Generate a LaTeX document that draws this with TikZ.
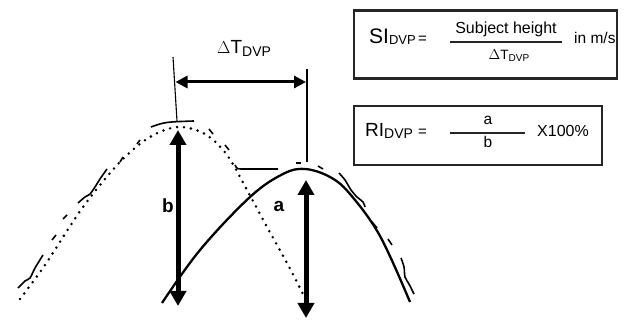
\documentclass[tikz,border=0pt]{standalone}
\usepackage{fontspec}
\setmainfont{Liberation Sans}
\usetikzlibrary{arrows.meta,positioning,calc}
\newcommand{\fsz}[1]{\fontsize{#1}{#1}\selectfont}
\newcommand{\lowdvp}[2]{\raisebox{-#1pt}{\fsz{#2}DVP}}

\begin{document}
\begin{tikzpicture}[x=1pt,y=-1pt,
  formbox/.style={draw=black!85,line width=2.2pt,inner sep=0pt},
  txt/.style={inner sep=0pt,anchor=base west},
  ctxt/.style={inner sep=0pt,anchor=base},
  fracbar/.style={line width=2pt,draw=black!85},
  guide/.style={line width=1.1pt},
  dvpcurve/.style={line width=2.3pt},
  dotcurve/.style={line width=2.8pt,line cap=round,dash pattern=on 0pt off 7pt},
  trace/.style={line width=1.6pt},
  bigarrow/.style={line width=5pt,{Triangle[length=15pt,width=16pt]}-{Triangle[length=15pt,width=16pt]}},
  gaparrow/.style={line width=3pt,{Triangle[length=12pt,width=12pt]}-{Triangle[length=12pt,width=12pt]}},
  letter/.style={inner sep=0pt,font=\bfseries\fsz{19}}]

  \useasboundingbox (0,0) rectangle (624,320);

  % formula boxes
  \node[formbox,minimum width=263pt,minimum height=68pt] (sibox) at (485.5,44.5) {};
  \node[formbox,minimum width=248pt,minimum height=59pt] (ribox) at (478,135.5) {};

  \node[txt] (silabel) at (369,44) {\fsz{21}SI\lowdvp{0.5}{13}};
  \node[txt] (sieq) at (418,44) {\fsz{15}=};
  \node[ctxt] (sinum) at (506,34) {\fsz{16}Subject height};
  \node[ctxt] (siden) at (509,60) {\fsz{13.5}$\Delta$T\lowdvp{1.5}{10}};
  \node[txt] (siunit) at (574,44) {\fsz{15.5}in m/s};
  \draw[fracbar] (450,42) -- (562,42);

  \node[txt] (rilabel) at (365,137) {\fsz{19}RI\lowdvp{2}{14}};
  \node[txt] (rieq) at (418,137) {\fsz{15}=};
  \node[ctxt] (rinum) at (488,125) {\fsz{15.5}a};
  \node[ctxt] (riden) at (488,148) {\fsz{15.5}b};
  \node[txt] (riunit) at (537,137) {\fsz{16}X100\%};
  \draw[fracbar] (450,133) -- (525,133);

  % time gap between the peaks
  \node[txt] (gaplabel) at (217,54) {\fsz{19}$\Delta$T\lowdvp{2.5}{14}};
  \coordinate (lguidetop) at (173,57);
  \coordinate (lguidebot) at (177,121);
  \coordinate (rguidetop) at (307,69);
  \coordinate (rguidebot) at (307,162);
  \draw[guide] (lguidetop) -- (lguidebot);
  \draw[guide] (rguidetop) -- (rguidebot);
  \coordinate (gapl) at (175.5,82);
  \coordinate (gapr) at (306,82);
  \draw[gaparrow] (gapl) -- (gapr);

  % curves
  \draw[dotcurve] plot[smooth,tension=0.55] coordinates {(20,299) (45,265) (83,207) (120,162) (150,137) (178,127) (205,134) (227,155) (247,190) (267,227) (287,263) (303,294)};
  \draw[dvpcurve] plot[smooth,tension=0.6] coordinates {(162,303) (200,250) (250,197) (283,174) (305,169) (330,177) (350,194) (380,236) (410,302)};

  % variation traces
  \draw[trace] plot[smooth] coordinates {(18,288) (25,281) (30,278) (35,268) (43,255)};
  \draw[trace] plot[smooth] coordinates {(78,203) (85,197) (90,194) (95,187) (100,179) (107,169)};
  \draw[trace] plot[smooth] coordinates {(339,173) (345,180) (351,190) (357,197) (363,202) (365,207)};
  \draw[trace] plot[smooth] coordinates {(401,258) (404,267) (405,277) (409,284) (412,290) (414,294)};
  \draw[trace] (151,127) .. controls (165,122) .. (194,121);
  \draw[trace] (235,165) .. controls (237,169) .. (243,169) -- (278,169);
  \foreach \ax/\ay/\bx/\by in {52/240/56/235, 63/219/67/215, 120/162/123/157, 137/144/140/140,
    209/129/213/134, 225/145/229/150, 296/163/301/163, 318/166/323/169,
    372/222/377/228, 388/239/392/245}
    {\draw[trace] (\ax,\ay) -- (\bx,\by);}

  % heights a and b
  \coordinate (btop) at (178,130);
  \coordinate (bbot) at (178,306);
  \coordinate (atop) at (306,180);
  \coordinate (abot) at (306,318);
  \draw[bigarrow] (btop) -- (bbot);
  \draw[bigarrow] (atop) -- (abot);
  \node[letter] (blabel) at (168,206) {b};
  \node[letter] (alabel) at (279,206) {a};
\end{tikzpicture}
\end{document}
